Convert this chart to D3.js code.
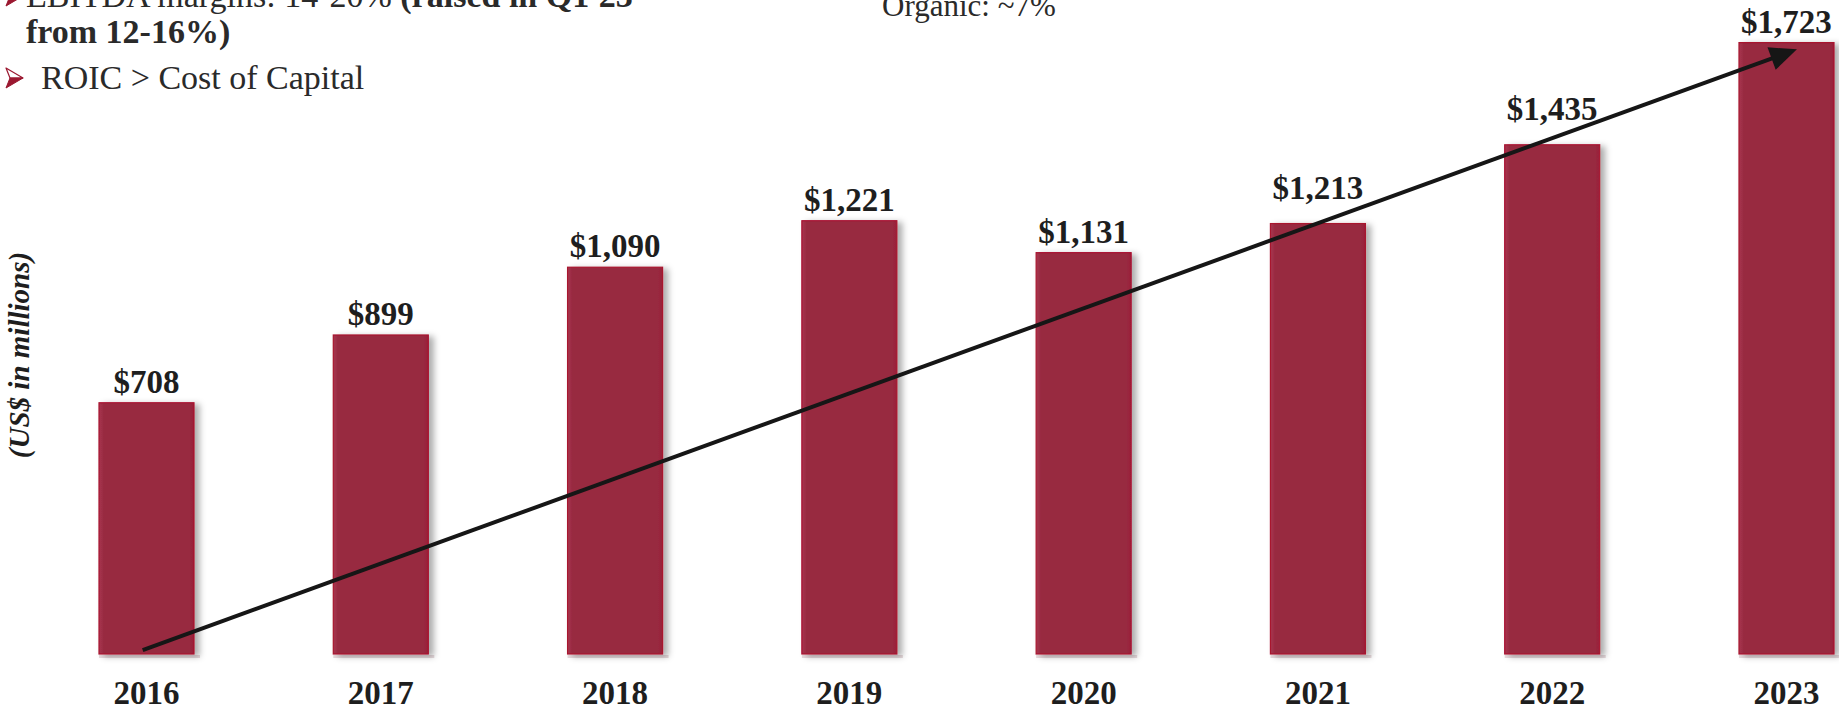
<!DOCTYPE html>
<html>
<head>
<meta charset="utf-8">
<script src="https://cdn.jsdelivr.net/npm/d3@7"></script>
<style>
  html, body { margin: 0; padding: 0; background: #fff; overflow: hidden; }
  svg { display: block; }
  text { font-family: "Liberation Serif", "Times New Roman", serif; }
</style>
</head>
<body>
<svg id="chart" width="1839" height="716"></svg>
<script>
// Annual figures, US$ in millions
const years = ["2016", "2017", "2018", "2019", "2020", "2021", "2022", "2023"];
const values = [708, 899, 1090, 1221, 1131, 1213, 1435, 1723];
const valueLabels = ["$708", "$899", "$1,090", "$1,221", "$1,131", "$1,213", "$1,435", "$1,723"];
const yAxisTitle = "(US$ in millions)";
const organicNote = "Organic: ~7%";
const bullets = [
  [{ t: "EBITDA margins: 14-20% ", bold: false }, { t: "(raised in Q1'23", bold: true }],
  [{ t: "from 12-16%)", bold: true }],
  [{ t: "ROIC > Cost of Capital", bold: false }]
];
// trend arrow endpoints (in value units)
const trendStart = 11;
const trendEnd = 1704;

const svg = d3.select("#chart");

const x = d3.scaleBand()
  .domain(years)
  .range([99, 1834])
  .paddingInner(0.5945)
  .paddingOuter(0);

const y = d3.scaleLinear()
  .domain([0, 1800])
  .range([654, 654 - 1800 * 0.35485]);

const defs = svg.append("defs");

const shadow = defs.append("filter")
  .attr("id", "barShadow")
  .attr("x", "-10%").attr("y", "-10%")
  .attr("width", "130%").attr("height", "120%");
shadow.append("feDropShadow")
  .attr("dx", 5).attr("dy", 2)
  .attr("stdDeviation", 3)
  .attr("flood-color", "#000")
  .attr("flood-opacity", 0.32);

const grad = defs.append("linearGradient")
  .attr("id", "barFill")
  .attr("x1", "0%").attr("x2", "100%").attr("y1", "0%").attr("y2", "0%");
grad.append("stop").attr("offset", "0%").attr("stop-color", "#a8364f");
grad.append("stop").attr("offset", "5%").attr("stop-color", "#982a41");
grad.append("stop").attr("offset", "95%").attr("stop-color", "#982a41");
grad.append("stop").attr("offset", "100%").attr("stop-color", "#9a1f38");

// faint reflection under each bar
svg.append("g").selectAll("rect")
  .data(years)
  .join("rect")
  .attr("x", d => x(d))
  .attr("y", y(0) + 1)
  .attr("width", x.bandwidth() + 6)
  .attr("height", 3)
  .attr("fill", "#e6dadd");

// bars
svg.append("g").selectAll("rect")
  .data(values)
  .join("rect")
  .attr("x", (d, i) => x(years[i]))
  .attr("y", d => y(d))
  .attr("width", x.bandwidth())
  .attr("height", d => y(0) - y(d))
  .attr("fill", "url(#barFill)")
  .attr("stroke", "#a8132f")
  .attr("stroke-width", 1.2)
  .attr("filter", "url(#barShadow)");

// trend arrow geometry
const ax0 = x("2016") + x.bandwidth() * 0.46;
const ax1 = x("2023") + x.bandwidth() * 0.61;
const ay0 = y(trendStart), ay1 = y(trendEnd);
const arrowYAt = px => ay0 + (px - ax0) * (ay1 - ay0) / (ax1 - ax0);

// value labels, lifted where the trend arrow would cross them
function labelY(d, i) {
  const cx = x(years[i]) + x.bandwidth() / 2;
  const top = y(d);
  const ya = arrowYAt(cx);
  const crosses = ya > top - 45 && ya < top + 5;
  return top - (crosses ? 25 : 10);
}
svg.append("g").selectAll("text")
  .data(values)
  .join("text")
  .attr("x", (d, i) => x(years[i]) + x.bandwidth() / 2)
  .attr("y", labelY)
  .attr("text-anchor", "middle")
  .attr("font-size", 33)
  .attr("font-weight", "bold")
  .attr("fill", "#1e1e1e")
  .text((d, i) => valueLabels[i]);

// category axis
const xAxis = svg.append("g")
  .attr("transform", `translate(0,${y(0)})`)
  .call(d3.axisBottom(x).tickSize(0).tickPadding(0));
xAxis.select(".domain").remove();
xAxis.selectAll("text")
  .attr("y", 50)
  .attr("dy", 0)
  .attr("font-size", 33)
  .attr("font-weight", "bold")
  .attr("font-family", "Liberation Serif, serif")
  .attr("fill", "#1e1e1e");

// value axis title
svg.append("text")
  .attr("transform", `translate(29,355) rotate(-90)`)
  .attr("text-anchor", "middle")
  .attr("font-size", 29)
  .attr("font-weight", "bold")
  .attr("font-style", "italic")
  .attr("fill", "#1e1e1e")
  .text(yAxisTitle);

// trend arrow
const ang = Math.atan2(ay1 - ay0, ax1 - ax0);
const headLen = 27, headHalf = 12;
const bx = ax1 - headLen * Math.cos(ang), by = ay1 - headLen * Math.sin(ang);
svg.append("line")
  .attr("x1", ax0).attr("y1", ay0)
  .attr("x2", bx + 2 * Math.cos(ang)).attr("y2", by + 2 * Math.sin(ang))
  .attr("stroke", "#161616")
  .attr("stroke-width", 4);
svg.append("path")
  .attr("d", d3.line()([
    [ax1, ay1],
    [bx + headHalf * Math.sin(ang), by - headHalf * Math.cos(ang)],
    [bx - headHalf * Math.sin(ang), by + headHalf * Math.cos(ang)]
  ]) + "Z")
  .attr("fill", "#161616");

// note at top
svg.append("text")
  .attr("x", 882)
  .attr("y", 16)
  .attr("font-size", 31)
  .attr("fill", "#2a2a2a")
  .text(organicNote);

// bullet text block
const lineY = [7, 43, 89];

// 3D arrowhead bullet: outlined upper half, filled lower half
function drawBullet(cx, cy) {
  const g = svg.append("g").attr("transform", `translate(${cx},${cy})`);
  g.append("path")
    .attr("d", "M0,-10 L17,0 L4,0 Z")
    .attr("fill", "#fff")
    .attr("stroke", "#9b1830")
    .attr("stroke-width", 1.2)
    .attr("stroke-linejoin", "round");
  g.append("path")
    .attr("d", "M17,0 L4,0 L0,10 Z")
    .attr("fill", "#9b1830")
    .attr("stroke", "#9b1830")
    .attr("stroke-width", 1)
    .attr("stroke-linejoin", "round");
}
drawBullet(6, -4);
drawBullet(6, 78);

bullets.forEach((row, r) => {
  const t = svg.append("text")
    .attr("x", r === 2 ? 41 : 26)
    .attr("y", lineY[r])
    .attr("font-size", 34)
    .attr("fill", "#2a2a2a");
  row.forEach(seg => {
    t.append("tspan")
      .attr("font-weight", seg.bold ? "bold" : "normal")
      .text(seg.t);
  });
});
</script>
</body>
</html>
